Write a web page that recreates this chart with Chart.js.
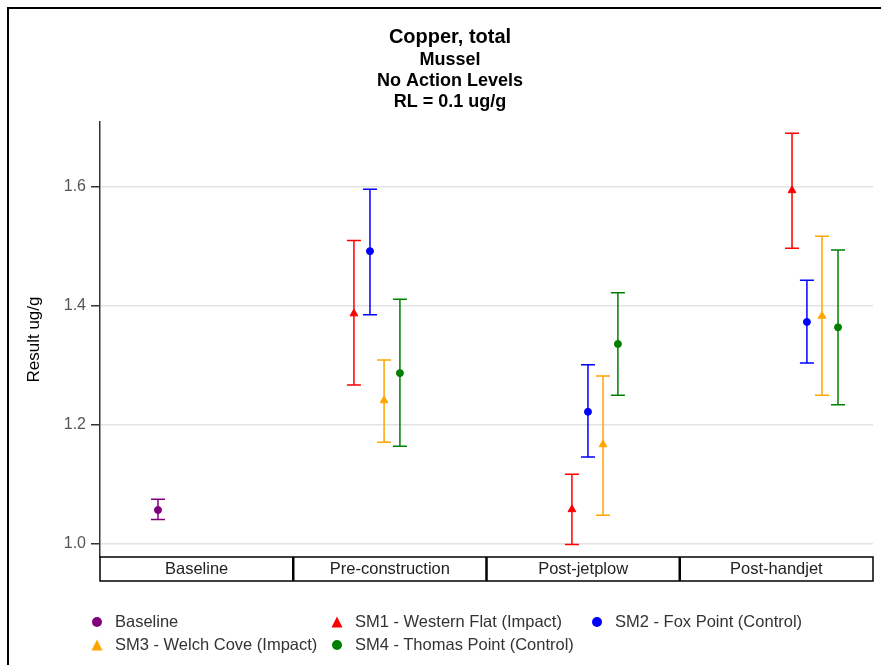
<!DOCTYPE html>
<html>
<head>
<meta charset="utf-8">
<script src="https://cdn.jsdelivr.net/npm/chart.js@4"></script>
<style>
  html, body { margin: 0; padding: 0; background: #fff; overflow: hidden; }
  #frame { position: absolute; left: 7px; top: 7px; right: -300px; bottom: -300px; border-left: 2px solid #000; border-top: 2px solid #000; }
  #chart { position: absolute; left: 0; top: 0; }
  #legend { position: absolute; left: 91px; top: 612px; display: grid; grid-template-columns: 240px 260px auto; row-gap: 4px; font: 16.5px 'Liberation Sans', Arial, sans-serif; color: #333; }
  .item { display: flex; align-items: center; height: 19px; white-space: nowrap; }
  .item svg { flex-shrink: 0; margin-right: 12px; }
</style>
</head>
<body>
<div id="frame"></div>
<canvas id="chart" width="900" height="665"></canvas>
<div id="legend"></div>
<script>
const categories = ["Baseline", "Pre-construction", "Post-jetplow", "Post-handjet"];
const seriesNames = ["Baseline", "SM1 - Western Flat (Impact)", "SM2 - Fox Point (Control)", "SM3 - Welch Cove (Impact)", "SM4 - Thomas Point (Control)"];
const seriesColors = ["#800080", "#ff0000", "#0000ff", "#ffa500", "#008000"];
const seriesShapes = ["circle", "triangle", "circle", "triangle", "circle"];

// x = position on the category axis (category i spans i..i+1)
const baselineX = [0.30];
const baselineY = [1.056];
const baselineLow = [1.040];
const baselineHigh = [1.074];

const sm1X = [1.314, 2.442, 3.581];
const sm1Y = [1.386, 1.057, 1.593];
const sm1Low = [1.266, 0.998, 1.496];
const sm1High = [1.509, 1.116, 1.689];

const sm2X = [1.397, 2.525, 3.658];
const sm2Y = [1.491, 1.221, 1.372];
const sm2Low = [1.384, 1.145, 1.303];
const sm2High = [1.595, 1.300, 1.442];

const sm3X = [1.470, 2.603, 3.736];
const sm3Y = [1.240, 1.166, 1.382];
const sm3Low = [1.170, 1.047, 1.249];
const sm3High = [1.308, 1.281, 1.516];

const sm4X = [1.552, 2.680, 3.819];
const sm4Y = [1.286, 1.335, 1.363];
const sm4Low = [1.163, 1.249, 1.233];
const sm4High = [1.410, 1.421, 1.493];

const yTicks = [1.0, 1.2, 1.4, 1.6];

const family = "'Liberation Sans', Arial, sans-serif";

const xs = [baselineX, sm1X, sm2X, sm3X, sm4X];
const ys = [baselineY, sm1Y, sm2Y, sm3Y, sm4Y];
const lows = [baselineLow, sm1Low, sm2Low, sm3Low, sm4Low];
const highs = [baselineHigh, sm1High, sm2High, sm3High, sm4High];

const datasets = seriesNames.map((name, i) => ({
  label: name,
  data: xs[i].map((x, j) => ({ x, y: ys[i][j] })),
  low: lows[i],
  high: highs[i],
  backgroundColor: seriesColors[i],
  borderColor: seriesColors[i],
  borderWidth: 1,
  pointStyle: seriesShapes[i],
  pointRadius: seriesShapes[i] === "triangle" ? 4.5 : 3.5
}));

// vertical error bars with caps, drawn under the markers
const errorBars = {
  id: "errorBars",
  beforeDatasetsDraw(chart) {
    const ctx = chart.ctx;
    const y = chart.scales.y;
    chart.data.datasets.forEach((ds, i) => {
      const meta = chart.getDatasetMeta(i);
      ctx.save();
      ctx.strokeStyle = ds.borderColor;
      ctx.lineWidth = 1.5;
      meta.data.forEach((pt, j) => {
        const top = y.getPixelForValue(ds.high[j]);
        const bot = y.getPixelForValue(ds.low[j]);
        ctx.beginPath();
        ctx.moveTo(pt.x, top); ctx.lineTo(pt.x, bot);
        ctx.moveTo(pt.x - 7, top); ctx.lineTo(pt.x + 7, top);
        ctx.moveTo(pt.x - 7, bot); ctx.lineTo(pt.x + 7, bot);
        ctx.stroke();
      });
      ctx.restore();
    });
  }
};

// boxed category row under the plot
const categoryBoxes = {
  id: "categoryBoxes",
  afterDraw(chart) {
    const { ctx, chartArea, scales } = chart;
    const top = chartArea.bottom, h = 24;
    ctx.save();
    ctx.strokeStyle = "#000";
    ctx.lineWidth = 1.5;
    ctx.strokeRect(chartArea.left, top, chartArea.right - chartArea.left, h);
    ctx.lineWidth = 2.5;
    for (let i = 1; i < categories.length; i++) {
      const x = scales.x.getPixelForValue(i);
      ctx.beginPath(); ctx.moveTo(x, top); ctx.lineTo(x, top + h); ctx.stroke();
    }
    ctx.restore();
  }
};

new Chart(document.getElementById("chart"), {
  type: "scatter",
  data: { datasets },
  plugins: [errorBars, categoryBoxes],
  options: {
    responsive: false,
    animation: false,
    layout: { padding: { left: 27, right: 27, top: 0, bottom: 84 } },
    plugins: {
      legend: { display: false },
      tooltip: { enabled: false },
      title: {
        display: true, text: "Copper, total", color: "#000",
        font: { family, size: 20, weight: "bold", lineHeight: 1.2 },
        padding: { top: 25, bottom: 0 }
      },
      subtitle: {
        display: true, text: ["Mussel", "No Action Levels", "RL = 0.1 ug/g"], color: "#000",
        font: { family, size: 18, weight: "bold", lineHeight: 21 / 18 },
        padding: { top: 1, bottom: 9 }
      }
    },
    scales: {
      x: {
        type: "linear", min: 0, max: 4,
        afterBuildTicks: s => { s.ticks = categories.map((c, i) => ({ value: i + 0.5 })); },
        ticks: { callback: v => categories[Math.floor(v)], color: "#222", font: { family, size: 16.5 }, padding: 3, maxRotation: 0, autoSkip: false },
        grid: { display: false, drawTicks: false },
        border: { display: false },
        afterFit: s => { s.height = 24; }
      },
      y: {
        min: 0.977, max: 1.708,
        afterBuildTicks: s => { s.ticks = yTicks.map(v => ({ value: v })); },
        ticks: { callback: v => v.toFixed(1), color: "#555", font: { family, size: 16 }, padding: 5 },
        grid: { color: "#e3e3e3", lineWidth: 1.5, tickColor: "#333", tickLength: 9 },
        border: { color: "#333", width: 1.5 },
        title: { display: true, text: "Result ug/g", color: "#000", font: { family, size: 17, lineHeight: 1 }, padding: { top: -1, bottom: 0 } },
        afterFit: s => { s.width = 73; }
      }
    }
  }
});

// legend laid out in columns like the original
const legend = document.getElementById("legend");
seriesNames.forEach((name, i) => {
  const item = document.createElement("div");
  item.className = "item";
  const shape = seriesShapes[i] === "triangle"
    ? `<polygon points="6,0.5 11.5,11.5 0.5,11.5" fill="${seriesColors[i]}"/>`
    : `<circle cx="6" cy="6" r="5" fill="${seriesColors[i]}"/>`;
  item.innerHTML = `<svg width="12" height="12">${shape}</svg><span>${name}</span>`;
  legend.appendChild(item);
});
</script>
</body>
</html>
